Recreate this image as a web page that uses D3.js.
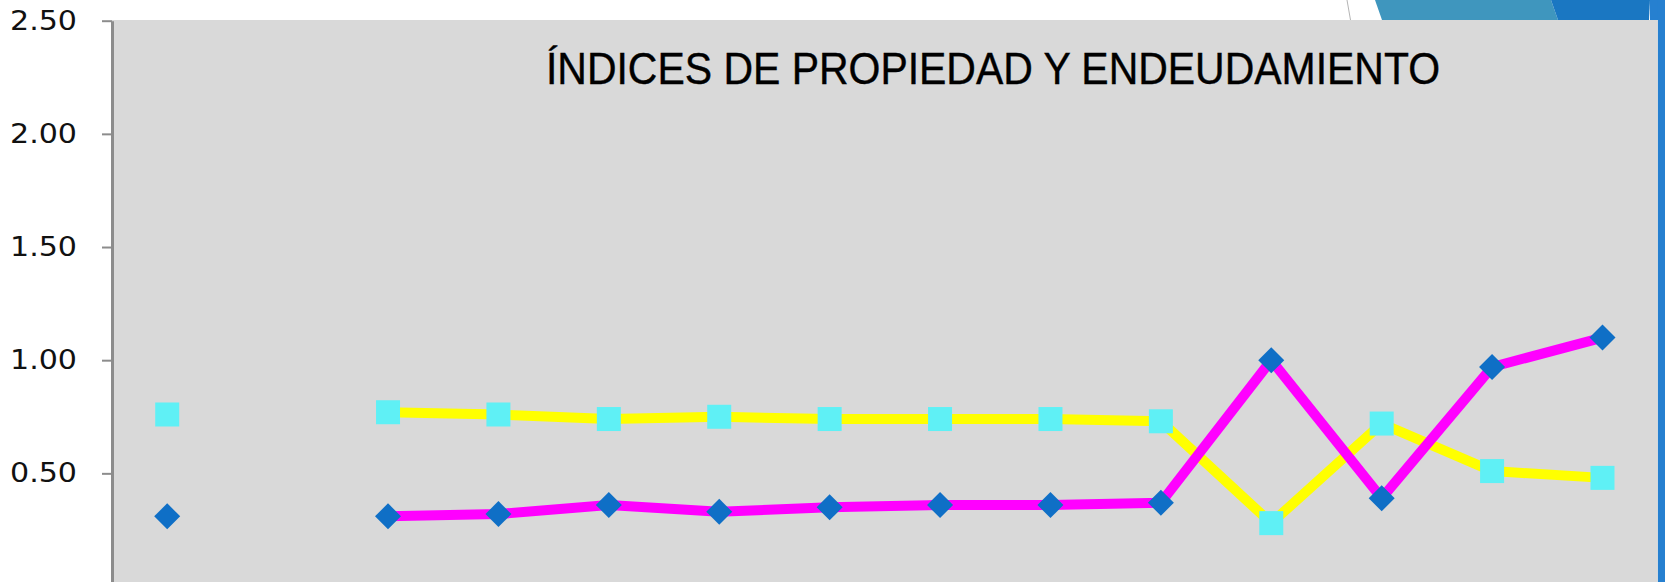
<!DOCTYPE html>
<html>
<head>
<meta charset="utf-8">
<script src="https://cdn.jsdelivr.net/npm/d3@7"></script>
<style>
  html, body { margin: 0; padding: 0; background: #ffffff; }
  svg { display: block; }
</style>
</head>
<body>
<svg id="chart" width="1665" height="582"></svg>
<script>
// ---- data ----
const categories = ["1","2","3","4","5","6","7","8","9","10","11","12","13","14"];
const propiedad     = [0.76, null, 0.77, 0.76, 0.74, 0.75, 0.74, 0.74, 0.74, 0.73, 0.28, 0.72, 0.51, 0.48];
const endeudamiento = [0.31, null, 0.31, 0.32, 0.36, 0.33, 0.35, 0.36, 0.36, 0.37, 1.00, 0.39, 0.97, 1.10];
const yTicks = [0.5, 1.0, 1.5, 2.0, 2.5];
const titleText = "ÍNDICES DE PROPIEDAD Y ENDEUDAMIENTO";

// ---- layout ----
const W = 1665, H = 582;
const plot = { left: 112, right: 1657.7, top: 20, bottom: 586.5 };

const svg = d3.select("#chart");

// slide decorations (top-right)
svg.append("line")
  .attr("x1", 1347).attr("y1", 0).attr("x2", 1350.5).attr("y2", 20)
  .attr("stroke", "#b4b4b4").attr("stroke-width", 1);
svg.append("polygon")
  .attr("points", "1375,0 1551,0 1558,20 1382,20")
  .attr("fill", "#3f96be");
svg.append("polygon")
  .attr("points", "1551,0 1650,0 1649,20 1558,20")
  .attr("fill", "#1a77c2");
svg.append("rect")
  .attr("x", 1650).attr("y", 0).attr("width", W - 1650).attr("height", 20)
  .attr("fill", "#2680d0");
svg.append("rect")
  .attr("x", plot.right).attr("y", 0).attr("width", W - plot.right).attr("height", H)
  .attr("fill", "#2680d0");

// plot background
svg.append("rect")
  .attr("x", plot.left).attr("y", plot.top)
  .attr("width", plot.right - plot.left).attr("height", H - plot.top + 10)
  .attr("fill", "#d9d9d9");

// scales
const x = d3.scalePoint().domain(categories).range([plot.left, plot.right]).padding(0.5);
const y = d3.scaleLinear().domain([0, 2.5]).range([plot.bottom, 20.7]);

// y axis
const yAxis = d3.axisLeft(y)
  .tickValues(yTicks)
  .tickFormat(d3.format(".2f"))
  .tickSize(10)
  .tickSizeOuter(0)
  .tickPadding(25);

const gy = svg.append("g")
  .attr("transform", `translate(${plot.left},0)`)
  .call(yAxis);
gy.select(".domain").attr("stroke", "#8c8c8c").attr("stroke-width", 3);
gy.selectAll(".tick line").attr("stroke", "#8c8c8c").attr("stroke-width", 2);
gy.selectAll(".tick text")
  .attr("fill", "#111111")
  .attr("font-family", "DejaVu Sans, Verdana, sans-serif")
  .attr("font-size", 27)
  .attr("textLength", 67)
  .attr("lengthAdjust", "spacingAndGlyphs");

// title
svg.append("text")
  .attr("x", 546).attr("y", 84)
  .attr("font-family", "'Liberation Sans Narrow', 'Liberation Sans', Arial, sans-serif")
  .attr("font-size", 45)
  .attr("fill", "#000000")
  .attr("stroke", "#000000")
  .attr("stroke-width", 0.4)
  .attr("textLength", 894)
  .attr("lengthAdjust", "spacingAndGlyphs")
  .text(titleText);

// helpers
function pts(values) {
  return categories.map((c, i) => ({ c, v: values[i] }));
}
const lineGen = d3.line()
  .defined(d => d.v !== null)
  .x(d => x(d.c))
  .y(d => y(d.v));

// series: propiedad (yellow line, cyan squares)
const pData = pts(propiedad);
svg.append("path")
  .datum(pData)
  .attr("fill", "none")
  .attr("stroke", "#ffff00")
  .attr("stroke-width", 10)
  .attr("stroke-linejoin", "round")
  .attr("d", lineGen);
svg.append("g").selectAll("rect")
  .data(pData.filter(d => d.v !== null))
  .join("rect")
  .attr("x", d => x(d.c) - 12)
  .attr("y", d => y(d.v) - 12)
  .attr("width", 24).attr("height", 24)
  .attr("fill", "#5ff0f5");

// series: endeudamiento (magenta line, blue diamonds)
const eData = pts(endeudamiento);
svg.append("path")
  .datum(eData)
  .attr("fill", "none")
  .attr("stroke", "#ff00ff")
  .attr("stroke-width", 10)
  .attr("stroke-linejoin", "round")
  .attr("d", lineGen);
const diamond = "M0,-13L13,0L0,13L-13,0Z";
svg.append("g").selectAll("path")
  .data(eData.filter(d => d.v !== null))
  .join("path")
  .attr("transform", d => `translate(${x(d.c)},${y(d.v)})`)
  .attr("d", diamond)
  .attr("fill", "#0f6fc6");
</script>
</body>
</html>
